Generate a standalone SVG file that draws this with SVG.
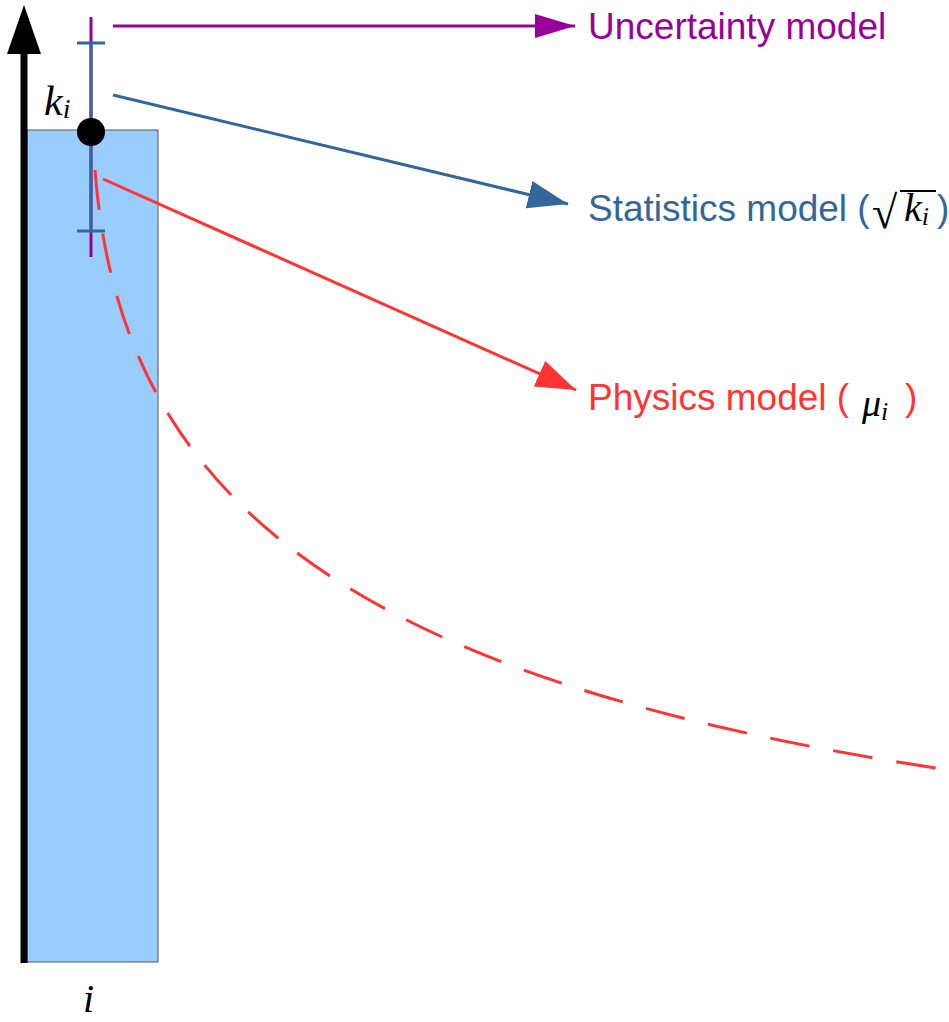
<svg xmlns="http://www.w3.org/2000/svg" width="949" height="1022" viewBox="0 0 949 1022">
<style>
.lbl{font-family:"Liberation Sans",Arial,sans-serif;font-size:37px}
.math{font-family:"Liberation Serif","Times New Roman",serif;font-style:italic}
</style>
<defs>
<marker id="hp" markerUnits="userSpaceOnUse" markerWidth="44" markerHeight="26" refX="40" refY="12" orient="auto"><path d="M0,0 L40,12 L0,24 z" fill="#990099"/></marker>
<marker id="hb" markerUnits="userSpaceOnUse" markerWidth="44" markerHeight="30" refX="40" refY="14" orient="auto"><path d="M0,0 L40,14 L0,28 z" fill="#336699"/></marker>
<marker id="hr" markerUnits="userSpaceOnUse" markerWidth="44" markerHeight="30" refX="40" refY="14" orient="auto"><path d="M0,0 L40,14 L0,28 z" fill="#ff3333"/></marker>
</defs>
<g id="bar"><rect x="27" y="130" width="131" height="832" fill="#99ccff" stroke="#555" stroke-width="1"/></g>
<g id="axis"><line x1="24" y1="50" x2="24" y2="963" stroke="#000" stroke-width="7"/><polygon points="7,54 41,54 24,5" fill="#000"/></g>
<g id="curve"><path d="M95,170 C120,500 350,680 949,770" fill="none" stroke="#ff3333" stroke-width="3" stroke-dasharray="40,24"/></g>
<g id="errorbar">
<line x1="91" y1="17" x2="91" y2="257" stroke="#990099" stroke-width="3"/>
<line x1="91" y1="43" x2="91" y2="231" stroke="#336699" stroke-width="3"/>
<line x1="77" y1="43" x2="105" y2="43" stroke="#336699" stroke-width="3"/>
<line x1="77" y1="231" x2="105" y2="231" stroke="#336699" stroke-width="3"/>
</g>
<g id="point"><circle cx="91" cy="132" r="14" fill="#000"/>
<text class="math" x="44" y="115" font-size="42">k<tspan font-size="28" dy="3">i</tspan></text></g>
<g id="connectors">
<line x1="113" y1="26" x2="575" y2="26" stroke="#990099" stroke-width="3" marker-end="url(#hp)"/>
<line x1="113" y1="95" x2="568" y2="204" stroke="#336699" stroke-width="3" marker-end="url(#hb)"/>
<line x1="103" y1="179" x2="576" y2="390" stroke="#ff3333" stroke-width="3" marker-end="url(#hr)"/>
</g>
<g id="uncertainty"><text class="lbl" x="588" y="39" fill="#990099">Uncertainty model</text></g>
<g id="statistics"><text class="lbl" x="588" y="221" fill="#336699">Statistics model (</text>
<text x="872" y="228" font-family="Liberation Serif,serif" font-size="46" fill="#000">√</text>
<line x1="900" y1="191" x2="936" y2="191" stroke="#000" stroke-width="2"/>
<text class="math" x="904" y="221" font-size="40" fill="#000">k<tspan font-size="26" dy="4">i</tspan></text>
<text class="lbl" x="937" y="221" fill="#336699">)</text></g>
<g id="physics"><text class="lbl" x="588" y="410" fill="#ff3333">Physics model ( </text>
<text class="math" x="862" y="416" font-size="38" fill="#000">μ<tspan font-size="26" dy="4">i</tspan></text>
<text class="lbl" x="905" y="410" fill="#ff3333">)</text></g>
<g id="xlabel"><text class="math" x="83" y="1012" font-size="40">i</text></g>
</svg>
